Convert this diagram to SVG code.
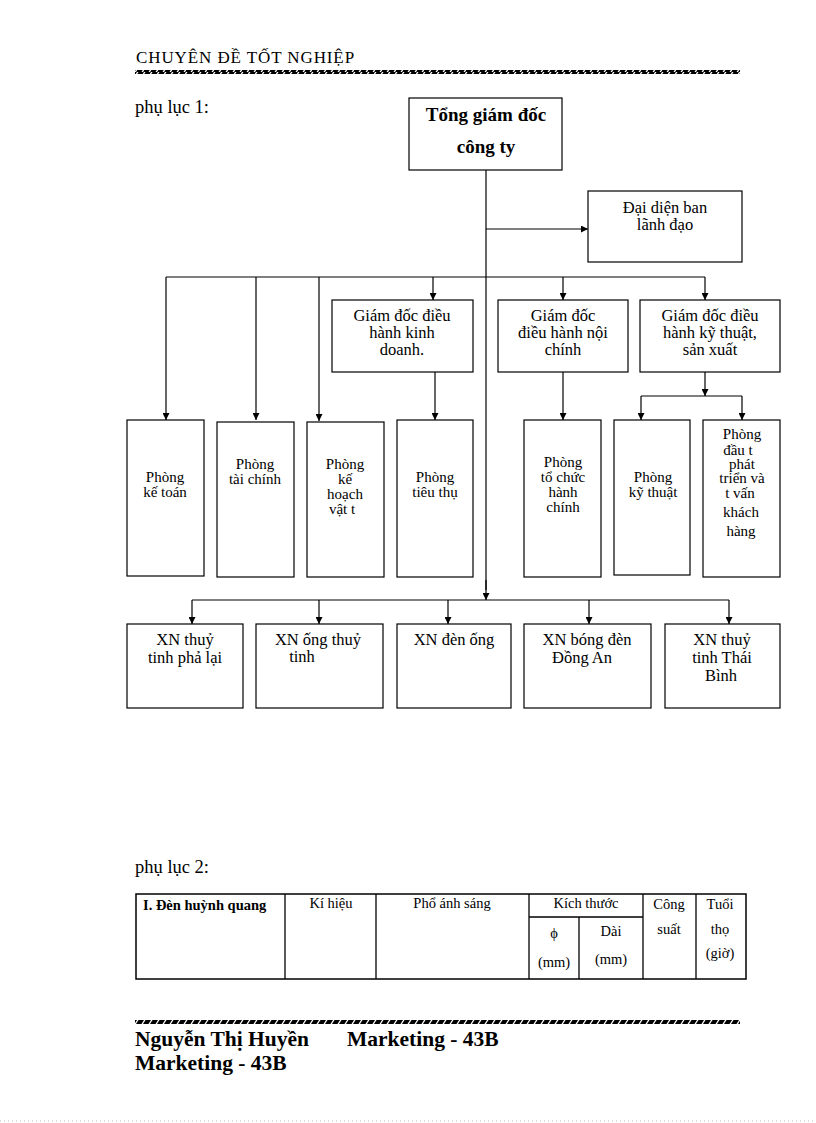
<svg xmlns="http://www.w3.org/2000/svg" width="816" height="1123" viewBox="0 0 816 1123">
<defs>
<pattern id="hatch" x="0" y="0" width="7" height="4" patternUnits="userSpaceOnUse">
<rect width="7" height="4" fill="#000"/>
<polygon points="4,0 5.5,0 3,4 1.5,4" fill="#fff"/>
</pattern>
<marker id="arr" viewBox="0 0 10 10" refX="10" refY="5" markerWidth="7" markerHeight="7" orient="auto" markerUnits="userSpaceOnUse">
<path d="M0,0 L10,5 L0,10 z" fill="#000"/>
</marker>
</defs>
<style>
.box{fill:#fff;stroke:#000;stroke-width:1.2}
.t{font-family:"Liberation Serif","Times New Roman",serif;font-size:16.5px;fill:#000;text-anchor:middle}
.ts{font-family:"Liberation Serif","Times New Roman",serif;font-size:15px;fill:#000;text-anchor:middle}
.tb{font-family:"Liberation Serif","Times New Roman",serif;font-size:19px;font-weight:bold;fill:#000;text-anchor:middle}
.tab{font-family:"Liberation Serif","Times New Roman",serif;font-size:14.5px;fill:#000;text-anchor:middle}
.l{stroke:#000;stroke-width:1.2;fill:none}
.la{stroke:#000;stroke-width:1.2;fill:none;marker-end:url(#arr)}
.plain{font-family:"Liberation Serif","Times New Roman",serif;fill:#000}
</style>
<rect width="816" height="1123" fill="#fff"/>

<g id="header">
<text class="plain" x="136" y="63" font-size="17" letter-spacing="0.9">CHUYÊN  ĐỀ TỐT NGHIỆP</text>
<rect x="135" y="70" width="605" height="4" fill="url(#hatch)"/>
</g>
<text class="plain" x="135" y="113" font-size="18.5">phụ lục 1:</text>

<g id="connectors">
<line class="l" x1="486" y1="170" x2="486" y2="590"/>
<path class="la" d="M486,229 H588"/>
<line class="l" x1="166" y1="277" x2="705" y2="277"/>
<path class="la" d="M166,277 V420"/>
<path class="la" d="M256,277 V420"/>
<path class="la" d="M319,277 V421"/>
<path class="la" d="M433,277 V300"/>
<path class="la" d="M563,277 V300"/>
<path class="la" d="M705,277 V300"/>
<path class="la" d="M435,372 V420"/>
<path class="la" d="M563,372 V420"/>
<path class="la" d="M705,372 V396"/>
<path class="l" d="M641,396 H742"/>
<path class="la" d="M641,396 V420"/>
<path class="la" d="M742,396 V420"/>
<path class="la" d="M486,580 V600"/>
<line class="l" x1="192" y1="600" x2="729" y2="600"/>
<path class="la" d="M192,600 V624"/>
<path class="la" d="M319,600 V624"/>
<path class="la" d="M448,600 V624"/>
<path class="la" d="M589,600 V624"/>
<path class="la" d="M729,600 V624"/>
</g>

<g id="tgd">
<rect class="box" x="409" y="98" width="153" height="72"/>
<text class="tb" x="486" y="121">Tổng giám đốc</text>
<text class="tb" x="486" y="153">công ty</text>
</g>
<g id="daidien">
<rect class="box" x="588" y="191" width="154" height="71"/>
<text class="t" x="665" y="213">Đại diện ban</text>
<text class="t" x="665" y="230">lãnh đạo</text>
</g>
<g id="gd-kinhdoanh">
<rect class="box" x="332" y="300" width="141" height="72"/>
<text class="t" x="402" y="321">Giám đốc điều</text>
<text class="t" x="402" y="338">hành kinh</text>
<text class="t" x="402" y="355">doanh.</text>
</g>
<g id="gd-noichinh">
<rect class="box" x="498" y="300" width="130" height="72"/>
<text class="t" x="563" y="321">Giám đốc</text>
<text class="t" x="563" y="338">điều hành nội</text>
<text class="t" x="563" y="355">chính</text>
</g>
<g id="gd-kythuat">
<rect class="box" x="640" y="300" width="140" height="72"/>
<text class="t" x="710" y="321">Giám đốc điều</text>
<text class="t" x="710" y="338">hành kỹ thuật,</text>
<text class="t" x="710" y="355">sản xuất</text>
</g>

<g id="p-ketoan">
<rect class="box" x="127" y="420" width="77" height="156"/>
<text class="ts" x="165" y="482">Phòng</text>
<text class="ts" x="165" y="497">kế toán</text>
</g>
<g id="p-taichinh">
<rect class="box" x="217" y="422" width="77" height="155"/>
<text class="ts" x="255" y="469">Phòng</text>
<text class="ts" x="255" y="484">tài chính</text>
</g>
<g id="p-kehoach">
<rect class="box" x="307" y="422" width="77" height="155"/>
<text class="ts" x="345" y="469">Phòng</text>
<text class="ts" x="345" y="484">kế</text>
<text class="ts" x="345" y="499">hoạch</text>
<text class="ts" x="342" y="514">vật t</text>
</g>
<g id="p-tieuthu">
<rect class="box" x="397" y="420" width="76" height="157"/>
<text class="ts" x="435" y="482">Phòng</text>
<text class="ts" x="435" y="497">tiêu thụ</text>
</g>
<g id="p-tochuc">
<rect class="box" x="524" y="420" width="77" height="157"/>
<text class="ts" x="563" y="467">Phòng</text>
<text class="ts" x="563" y="482">tổ  chức</text>
<text class="ts" x="563" y="497">hành</text>
<text class="ts" x="563" y="512">chính</text>
</g>
<g id="p-kythuat">
<rect class="box" x="614" y="420" width="76" height="155"/>
<text class="ts" x="653" y="482">Phòng</text>
<text class="ts" x="653" y="497">kỹ thuật</text>
</g>
<g id="p-dautu">
<rect class="box" x="703" y="420" width="77" height="157"/>
<text class="ts" x="742" y="439">Phòng</text>
<text class="ts" x="738" y="455">đầu t</text>
<text class="ts" x="742" y="469">phát</text>
<text class="ts" x="742" y="483">triển và</text>
<text class="ts" x="740" y="498">t   vấn</text>
<text class="ts" x="741" y="517">khách</text>
<text class="ts" x="741" y="536">hàng</text>
</g>

<g id="xn-phalai">
<rect class="box" x="127" y="624" width="116" height="84"/>
<text class="t" x="185" y="645">XN thuỷ</text>
<text class="t" x="185" y="663">tinh  phả lại</text>
</g>
<g id="xn-ongthuytinh">
<rect class="box" x="256" y="624" width="127" height="84"/>
<text class="t" x="318" y="645">XN ống thuỷ</text>
<text class="t" x="302" y="662">tinh</text>
</g>
<g id="xn-denong">
<rect class="box" x="397" y="624" width="114" height="84"/>
<text class="t" x="454" y="645">XN đèn ống</text>
</g>
<g id="xn-dongan">
<rect class="box" x="524" y="624" width="127" height="84"/>
<text class="t" x="587" y="645">XN bóng đèn</text>
<text class="t" x="582" y="663">Đồng An</text>
</g>
<g id="xn-thaibinh">
<rect class="box" x="665" y="624" width="115" height="84"/>
<text class="t" x="722" y="645">XN thuỷ</text>
<text class="t" x="722" y="663">tinh Thái</text>
<text class="t" x="721" y="681">Bình</text>
</g>

<text class="plain" x="135" y="873" font-size="18.5">phụ lục 2:</text>

<g id="table">
<rect x="136" y="894" width="610" height="85" fill="none" stroke="#000" stroke-width="1.5"/>
<g class="l" style="stroke-width:1.3">
<line x1="285" y1="894" x2="285" y2="979"/>
<line x1="376" y1="894" x2="376" y2="979"/>
<line x1="529" y1="894" x2="529" y2="979"/>
<line x1="643" y1="894" x2="643" y2="979"/>
<line x1="696" y1="894" x2="696" y2="979"/>
<line x1="529" y1="917" x2="643" y2="917"/>
<line x1="579" y1="917" x2="579" y2="979"/>
</g>
<text class="plain" x="143" y="910" font-size="14.5" font-weight="bold">I. Đèn huỳnh  quang</text>
<text class="tab" x="331" y="908">Kí hiệu</text>
<text class="tab" x="452" y="908">Phổ ánh sáng</text>
<text class="tab" x="586" y="908">Kích thước</text>
<text class="tab" x="669" y="909">Công</text>
<text class="tab" x="669" y="934">suất</text>
<text class="tab" x="720" y="909">Tuổi</text>
<text class="tab" x="720" y="934">thọ</text>
<text class="tab" x="720" y="958">(giờ)</text>
<text class="tab" x="554" y="938">ϕ</text>
<text class="tab" x="554" y="967">(mm)</text>
<text class="tab" x="611" y="936">Dài</text>
<text class="tab" x="611" y="964">(mm)</text>
</g>

<g id="footer">
<rect x="135" y="1020" width="605" height="4" fill="url(#hatch)"/>
<text class="plain" x="135" y="1046" font-size="21.5" font-weight="bold">Nguyễn  Thị  Huyền</text>
<text class="plain" x="347" y="1046" font-size="21.5" font-weight="bold">Marketing  - 43B</text>
<text class="plain" x="135" y="1070" font-size="21.5" font-weight="bold">Marketing  - 43B</text>
<line x1="0" y1="1121" x2="816" y2="1121" stroke="#bbb" stroke-width="1" stroke-dasharray="1,3"/>
</g>
</svg>
